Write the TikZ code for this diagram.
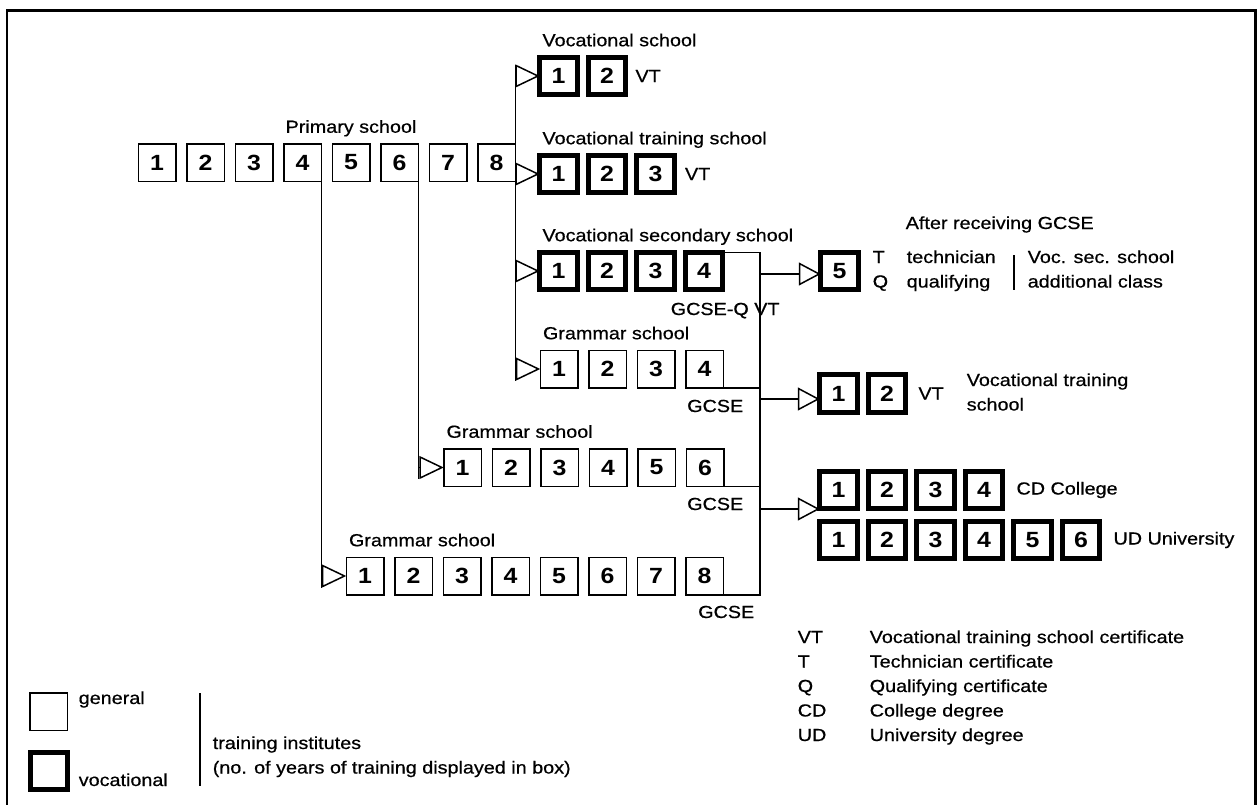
\documentclass[tikz,border=0pt]{standalone}
\usepackage{fontspec}
\setmainfont{Liberation Sans}[FakeStretch=1.13, UprightFeatures={FakeBold=0.6}]
\usetikzlibrary{arrows.meta,positioning,calc}
\begin{document}
\begin{tikzpicture}[x=1pt, y=-1pt, node distance=11pt, line width=1.5pt,
  gen/.style={draw, line width=1.5pt, minimum size=37.5pt, inner sep=0pt, outer sep=0pt, font=\fontsize{22}{24}\selectfont\bfseries},
  voc/.style={gen, line width=5pt},
  lbl/.style={inner sep=2pt, font=\fontsize{17.5}{24.5}\selectfont},
  title/.style={lbl, anchor=base west, yshift=11pt},
  feed/.style={-{Triangle[open, length=#1, width=23pt]}}, feed/.default=22pt]
\useasboundingbox (0,0) rectangle (1258,804);
\draw[line width=2.5pt] (7,806) -- (7,10.5) -- (1255.5,10.5) -- (1255.5,806);
\node[gen] (p1) at (157,162.5) {1}; \node[gen, right=of p1] (p2) {2}; \node[gen, right=of p2] (p3) {3}; \node[gen, right=of p3] (p4) {4};
\node[gen, right=of p4] (p5) {5}; \node[gen, right=of p5] (p6) {6}; \node[gen, right=of p6] (p7) {7}; \node[gen, right=of p7] (p8) {8};
\node[title, anchor=base] (tp) at (p5.north) {Primary school};
\node[voc] (vs1) at (558.5,76) {1}; \node[voc, right=of vs1] (vs2) {2};
\node[lbl, right=7pt of vs2] (vsc) {VT}; \node[title] (tvs) at (vs1.north west) {Vocational school};
\node[voc] (vt1) at (558.5,174) {1}; \node[voc, right=of vt1] (vt2) {2}; \node[voc, right=of vt2] (vt3) {3};
\node[lbl, right=8pt of vt3] (vtc) {VT}; \node[title] (tvt) at (vt1.north west) {Vocational training school};
\node[voc] (vss1) at (558.5,271) {1}; \node[voc, right=of vss1] (vss2) {2}; \node[voc, right=of vss2] (vss3) {3}; \node[voc, right=of vss3] (vss4) {4};
\node[title] (tvss) at (vss1.north west) {Vocational secondary school};
\node[lbl, anchor=base west] (gq) at (668,315) {GCSE-Q VT};
\node[gen] (g41) at (559,369) {1}; \node[gen, right=of g41] (g42) {2}; \node[gen, right=of g42] (g43) {3}; \node[gen, right=of g43] (g44) {4};
\node[title] (tg4) at (g41.north west) {Grammar school}; \node[lbl, anchor=base east] (gc4) at (746,412) {GCSE};
\node[gen] (g61) at (462.5,467.5) {1}; \node[gen, right=of g61] (g62) {2}; \node[gen, right=of g62] (g63) {3};
\node[gen, right=of g63] (g64) {4}; \node[gen, right=of g64] (g65) {5}; \node[gen, right=of g65] (g66) {6};
\node[title] (tg6) at (g61.north west) {Grammar school}; \node[lbl, anchor=base east] (gc6) at (746,510) {GCSE};
\node[gen] (g81) at (365,576) {1}; \node[gen, right=of g81] (g82) {2}; \node[gen, right=of g82] (g83) {3}; \node[gen, right=of g83] (g84) {4};
\node[gen, right=of g84] (g85) {5}; \node[gen, right=of g85] (g86) {6}; \node[gen, right=of g86] (g87) {7}; \node[gen, right=of g87] (g88) {8};
\node[title] (tg8) at (g81.north west) {Grammar school}; \node[lbl, anchor=base east] (gc8) at (757,618) {GCSE};
\node[voc] (r5) at (839.5,271) {5};
\node[lbl, anchor=base west] (tafter) at (903,229) {After receiving GCSE};
\node[lbl, anchor=base west] (ttq) at (870,263) {\begin{tabular}[t]{@{}p{34pt}@{}l@{}}T & technician\\ Q & qualifying\end{tabular}};
\node[lbl, anchor=base west] (tadd) at (1025,263) {\begin{tabular}[t]{@{}l@{}}Voc. sec. school\\ additional class\end{tabular}};
\draw (1014,255) -- (1014,290);
\node[voc] (rv1) at (838.5,393.5) {1}; \node[voc, right=of rv1] (rv2) {2};
\node[lbl, right=10pt of rv2] (rvc) {VT};
\node[lbl, anchor=base west] (trv) at (964,386) {\begin{tabular}[t]{@{}l@{}}Vocational training\\ school\end{tabular}};
\node[voc] (cd1) at (838.5,490) {1}; \node[voc, right=of cd1] (cd2) {2}; \node[voc, right=of cd2] (cd3) {3}; \node[voc, right=of cd3] (cd4) {4};
\node[lbl, right=11pt of cd4] (tcd) {CD College};
\node[voc, below=12.5pt of cd1] (ud1) {1}; \node[voc, right=of ud1] (ud2) {2}; \node[voc, right=of ud2] (ud3) {3};
\node[voc, right=of ud3] (ud4) {4}; \node[voc, right=of ud4] (ud5) {5}; \node[voc, right=of ud5] (ud6) {6};
\node[lbl, right=11pt of ud6] (tud) {UD University};
\draw ($(p8.east |- vs1.west)+(0,-11.5)$) -- ($(p8.east |- g41.west)+(0,11.5)$);
\draw[feed=24.5pt] (p8.east |- vs1.west) -- (vs1.west); \draw[feed=24.5pt] (p8.east |- vt1.west) -- (vt1.west);
\draw[feed=24.5pt] (p8.east |- vss1.west) -- (vss1.west); \draw[feed=24.5pt] (p8.east |- g41.west) -- (g41.west);
\draw (p6.south east) -- ($(p6.south east |- g61.west)+(0,11.5)$); \draw[feed=24.5pt] (p6.south east |- g61.west) -- (g61.west);
\draw (p4.south east) -- ($(p4.south east |- g81.west)+(0,11.5)$); \draw[feed=24.5pt] (p4.south east |- g81.west) -- (g81.west);
\coordinate (rs) at (760,0);
\draw (vss4.north east) -| (rs |- g88.south east) -- (g88.south east);
\draw (g44.south east) -- (g44.south east -| rs); \draw (g66.south east) -- (g66.south east -| rs);
\coordinate (j1) at (760,274); \coordinate (j2) at (760,399); \coordinate (j3) at (760,509);
\draw[feed] (j1) -- (j1 -| r5.west); \draw[feed] (j2) -- (j2 -| rv1.west); \draw[feed] (j3) -- (j3 -| cd1.west);
\node[lbl, anchor=base west] (abbr) at (795,643) {\begin{tabular}[t]{@{}p{72pt}@{}l@{}}VT & Vocational training school certificate\\ T & Technician certificate\\ Q & Qualifying certificate\\ CD & College degree\\ UD & University degree\end{tabular}};
\node[gen] (lgen) at (48.5,711.5) {}; \node[voc] (lvoc) at (49,771) {};
\node[lbl, anchor=base west] (tgen) at (76,704) {general}; \node[lbl, anchor=base west] (tvoc) at (76,786) {vocational};
\draw (200,693) -- (200,786);
\node[lbl, anchor=base west] (tinst) at (210,749) {\begin{tabular}[t]{@{}l@{}}training institutes\\ (no. of years of training displayed in box)\end{tabular}};
\end{tikzpicture}
\end{document}
